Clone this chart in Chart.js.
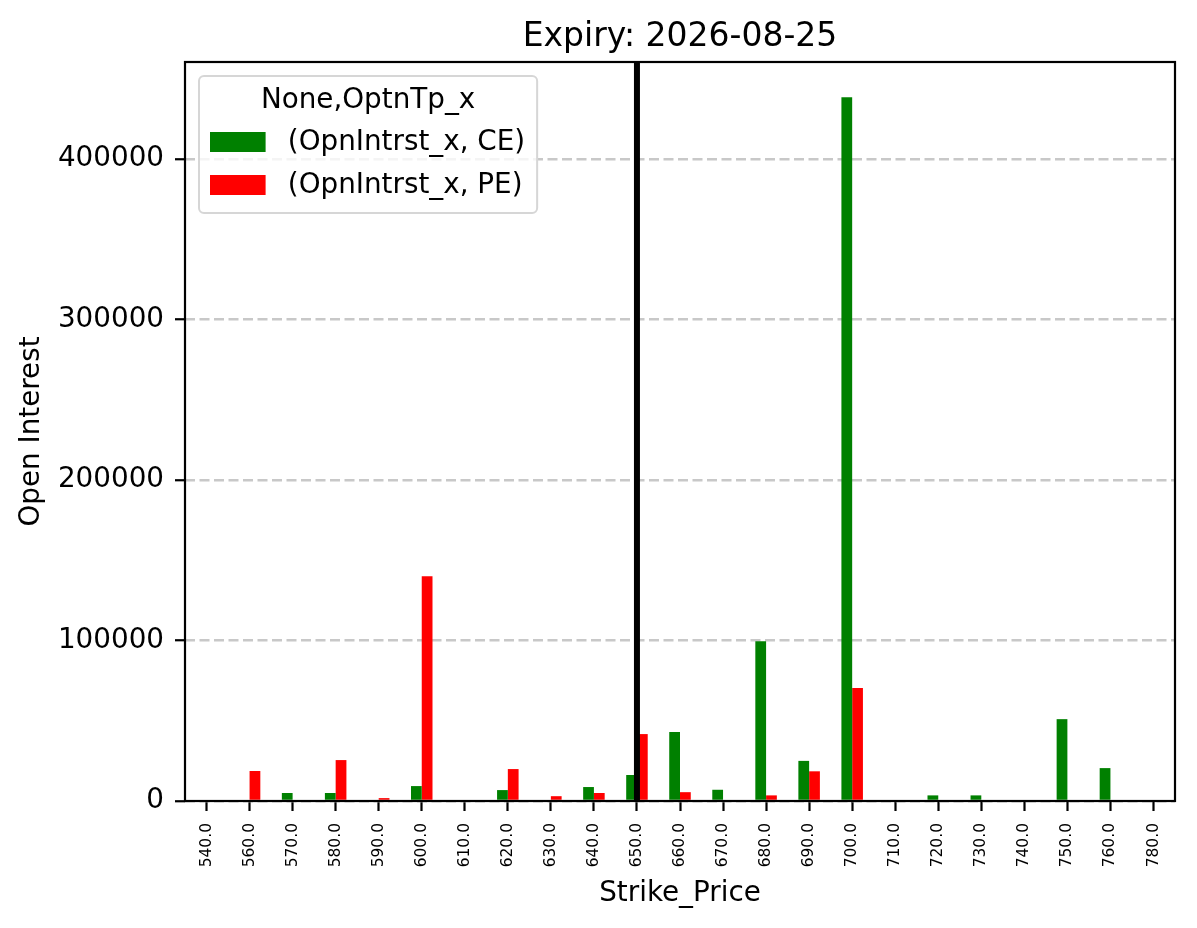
<!DOCTYPE html>
<html>
<head>
<meta charset="utf-8">
<script src="https://cdn.jsdelivr.net/npm/chart.js@4.4.1/dist/chart.umd.min.js"></script>
<style>
  body { margin: 0; background: #fff; }
  #wrap { width: 1197px; height: 928px; }
</style>
</head>
<body>
<div id="wrap"><canvas id="oi-chart" width="1197" height="928"></canvas></div>
<script>
// strike prices on the x axis
const strikes = ['540.0', '560.0', '570.0', '580.0', '590.0', '600.0', '610.0', '620.0', '630.0', '640.0', '650.0', '660.0',
    '670.0', '680.0', '690.0', '700.0', '710.0', '720.0', '730.0', '740.0', '750.0', '760.0', '780.0'];

// open interest
const ceOI = [0, 0, 5000, 5000, 0, 9300, 0, 6800, 0, 8700, 16200, 43000,
    7000, 99500, 25000, 438600, 0, 3500, 3500, 0, 51000, 20500, 0];
const peOI = [0, 18700, 0, 25500, 1800, 140000, 0, 19900, 3000, 5000, 41700, 5500,
    0, 3500, 18500, 70400, 0, 0, 0, 0, 0, 0, 0];

const seriesNames = ['(OpnIntrst_x, CE)', '(OpnIntrst_x, PE)'];
const seriesColors = ['#008000', '#ff0000'];
const legendTitle = 'None,OptnTp_x';
const chartTitle = 'Expiry: 2026-08-25';
const spotStrike = '650.0';
const yTicks = [0, 100000, 200000, 300000, 400000];
const yMax = 460500;

const FONT = '"DejaVu Sans", "Liberation Sans", sans-serif';

// black vertical line at the spot strike + box round the plot
const framePlugin = {
    id: 'frame',
    afterDatasetsDraw(chart) {
        const { ctx, chartArea, scales } = chart;
        const x = scales.x.getPixelForValue(strikes.indexOf(spotStrike));
        ctx.save();
        ctx.strokeStyle = '#000';
        ctx.lineWidth = 6;
        ctx.beginPath();
        ctx.moveTo(x, chartArea.top);
        ctx.lineTo(x, chartArea.bottom);
        ctx.stroke();

        ctx.lineWidth = 2.2;
        ctx.strokeRect(chartArea.left, chartArea.top, chartArea.right - chartArea.left, chartArea.bottom - chartArea.top);
        ctx.restore();
    }
};

// title centred over the plot area, not the whole canvas
const axesTitle = {
    id: 'axesTitle',
    afterDraw(chart) {
        const { ctx, chartArea } = chart;
        ctx.save();
        ctx.font = '33px ' + FONT;
        ctx.fillStyle = '#000';
        ctx.textAlign = 'center';
        ctx.textBaseline = 'alphabetic';
        ctx.fillText(chartTitle, (chartArea.left + chartArea.right) / 2, 46);
        ctx.restore();
    }
};

// matplotlib style legend inside the plot, upper left
const boxLegend = {
    id: 'boxLegend',
    afterDraw(chart) {
        const { ctx, chartArea } = chart;
        const fs = 27.8;
        ctx.save();
        ctx.font = fs + 'px ' + FONT;
        const tw = Math.max(...seriesNames.map(s => ctx.measureText(s).width));
        const x0 = chartArea.left + 14;
        const y0 = chartArea.top + 14;
        const w = 11 + 55.6 + 22.2 + tw + 12;
        const h = 137;

        ctx.beginPath();
        ctx.roundRect(x0, y0, w, h, 5);
        ctx.fillStyle = 'rgba(255,255,255,0.8)';
        ctx.fill();
        ctx.strokeStyle = '#d6d6d6';
        ctx.lineWidth = 2;
        ctx.stroke();

        ctx.fillStyle = '#000';
        ctx.textBaseline = 'middle';
        ctx.textAlign = 'center';
        ctx.fillText(legendTitle, x0 + w / 2, y0 + 25);

        ctx.textAlign = 'left';
        seriesNames.forEach((name, i) => {
            const cy = y0 + 66 + i * 43;
            ctx.fillStyle = seriesColors[i];
            ctx.fillRect(x0 + 11, cy - 10, 55.6, 20);
            ctx.fillStyle = '#000';
            ctx.fillText(name, x0 + 11 + 55.6 + 22.2, cy + 1);
        });
        ctx.restore();
    }
};

new Chart(document.getElementById('oi-chart'), {
    type: 'bar',
    data: {
        labels: strikes,
        datasets: [
            { label: seriesNames[0], data: ceOI, backgroundColor: seriesColors[0], borderWidth: 0 },
            { label: seriesNames[1], data: peOI, backgroundColor: seriesColors[1], borderWidth: 0 }
        ]
    },
    options: {
        responsive: false,
        animation: false,
        datasets: {
            bar: { categoryPercentage: 0.5, barPercentage: 1.0 }
        },
        layout: { padding: { left: 0, right: 22, top: 62, bottom: 0 } },
        plugins: {
            legend: { display: false },
            tooltip: { enabled: false },
            title: { display: false }
        },
        scales: {
            x: {
                offset: true,
                afterFit(scale) { scale.height = 127; },
                grid: {
                    offset: false,
                    drawOnChartArea: false,
                    tickColor: '#000',
                    tickWidth: 2.2,
                    tickLength: 10
                },
                border: { display: false },
                ticks: {
                    color: '#000',
                    font: { family: FONT, size: 15.5 },
                    minRotation: 90,
                    maxRotation: 90,
                    autoSkip: false,
                    padding: 12
                },
                title: {
                    display: true,
                    text: 'Strike_Price',
                    color: '#000',
                    font: { family: FONT, size: 27.8, lineHeight: 1.2 },
                    padding: { top: 0, bottom: 18 }
                }
            },
            y: {
                min: 0,
                max: yMax,
                afterFit(scale) { scale.width = 185; },
                afterBuildTicks(scale) { scale.ticks = yTicks.map(v => ({ value: v })); },
                grid: {
                    color: 'rgba(176,176,176,0.7)',
                    lineWidth: 2.5,
                    tickColor: '#000',
                    tickWidth: 2.2,
                    tickLength: 10,
                    tickBorderDash: []
                },
                // in v4 the grid line dash is read from border.dash
                border: { display: false, dash: [10, 4.5] },
                ticks: {
                    color: '#000',
                    font: { family: FONT, size: 27.8 },
                    padding: 11,
                    callback: v => String(v)
                },
                title: {
                    display: true,
                    text: 'Open Interest',
                    color: '#000',
                    font: { family: FONT, size: 27.8, lineHeight: 1.2 },
                    padding: { top: 15, bottom: 0 }
                }
            }
        }
    },
    plugins: [framePlugin, axesTitle, boxLegend]
});
</script>
</body>
</html>
